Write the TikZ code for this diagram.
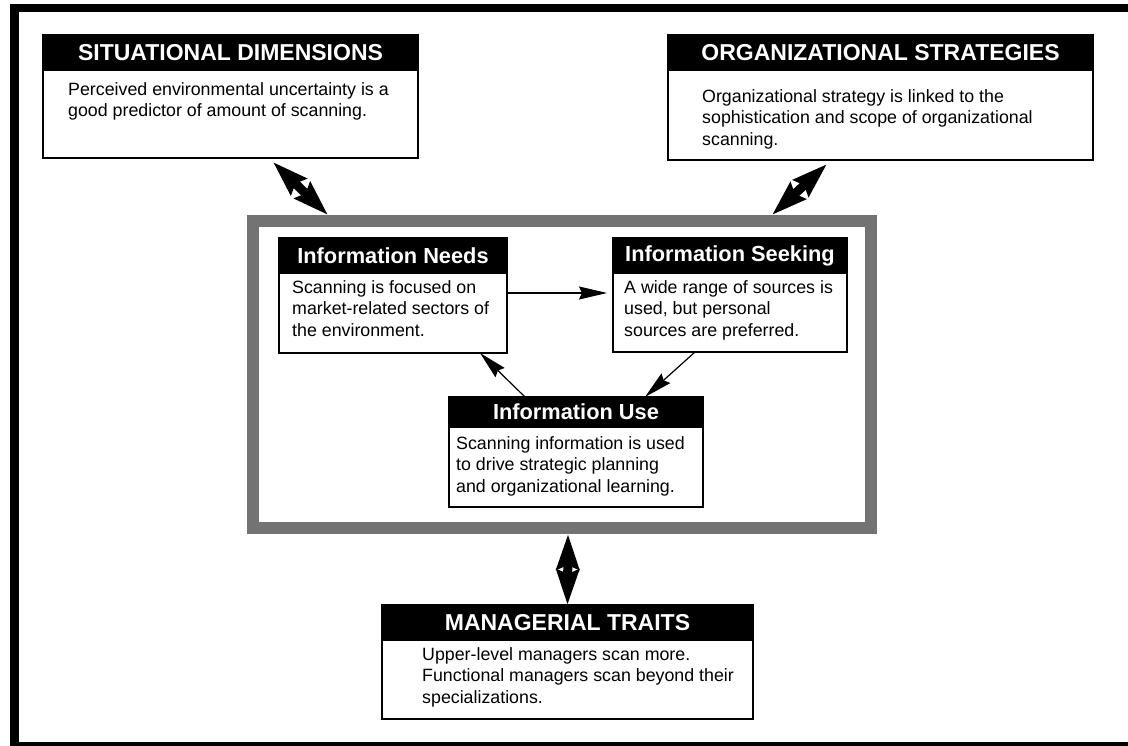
\documentclass[tikz,border=0pt]{standalone}
\usepackage{fontspec}
\setmainfont{Liberation Sans}
\usetikzlibrary{arrows.meta, positioning}

\begin{document}
\begin{tikzpicture}[
    x=1pt, y=-1pt,
    headbar/.style={draw, fill=black, text=white, inner sep=0, outer sep=0, line width=1.5pt, font=\fontsize{23}{27}\selectfont\bfseries},
    subhead/.style={headbar, font=\fontsize{21.8}{25}\selectfont\bfseries},
    bodybox/.style={draw, fill=white, inner sep=0, outer sep=0, line width=1.5pt},
    bodytext/.style={anchor=north west, align=left, inner sep=0, font=\fontsize{17.8}{21.5}\selectfont},
    cyclebox/.style={draw=black!55, line width=12pt, inner sep=0},
    twoway/.style={line width=9pt, {Stealth[length=35pt,width=22pt,inset=4pt]}-{Stealth[length=35pt,width=22pt,inset=4pt]}},
    flow/.style={line width=1.2pt, -{Stealth[length=28pt,width=13pt,inset=3pt]}}
]
    \useasboundingbox (0,0) rectangle (1128,746);

    % page border
    \fill (10,4) rectangle (19,746);
    \fill (10,4) rectangle (1128,12);
    \fill (10,742) rectangle (1128,746);

    % grey frame round the scanning cycle
    \node[cyclebox, minimum width=618, minimum height=307] (cycle) at (562,374.5) {};

    % outer boxes
    \node[headbar, minimum width=375, minimum height=35] (sithead) at (230.5,52.5) {SITUATIONAL DIMENSIONS};
    \node[bodybox, minimum width=375, minimum height=88, below=0pt of sithead] (sit) {};
    \node[bodytext] (sittext) at ([xshift=25, yshift=-12]sit.north west)
        {Perceived environmental uncertainty is a\\good predictor of amount of scanning.};

    \node[headbar, minimum width=425, minimum height=35] (orghead) at (880.5,52.5) {ORGANIZATIONAL STRATEGIES};
    \node[bodybox, minimum width=425, minimum height=90, below=0pt of orghead] (org) {};
    \node[bodytext] (orgtext) at ([xshift=34, yshift=-19]org.north west)
        {Organizational strategy is linked to the\\sophistication and scope of organizational\\scanning.};

    \node[headbar, minimum width=371, minimum height=35] (mgrhead) at (567.5,622.5) {MANAGERIAL TRAITS};
    \node[bodybox, minimum width=371, minimum height=79, below=0pt of mgrhead] (mgr) {};
    \node[bodytext] (mgrtext) at ([xshift=40, yshift=-7]mgr.north west)
        {Upper-level managers scan more.\\Functional managers scan beyond their\\specializations.};

    % the cycle itself
    \node[subhead, minimum width=228, minimum height=35] (needshead) at (393,255.5) {Information Needs};
    \node[bodybox, minimum width=228, minimum height=80, below=0pt of needshead] (needs) {};
    \node[bodytext] (needstext) at ([xshift=13, yshift=-7]needs.north west)
        {Scanning is focused on\\market-related sectors of\\the environment.};

    \node[subhead, minimum width=234, minimum height=35] (seekhead) at (730,255.5) {Information Seeking};
    \node[bodybox, minimum width=234, minimum height=79, below=0pt of seekhead] (seek) {};
    \node[bodytext] (seektext) at ([xshift=11, yshift=-7]seek.north west)
        {A wide range of sources is\\used, but personal\\sources are preferred.};

    \node[subhead, minimum width=254, minimum height=30] (usehead) at (576,412) {Information Use};
    \node[bodybox, minimum width=254, minimum height=80, below=0pt of usehead] (use) {};
    \node[bodytext] (usetext) at ([xshift=7, yshift=-9]use.north west)
        {Scanning information is used\\to drive strategic planning\\and organizational learning.};

    \draw[flow] ([yshift=-20]needs.north east) -- ([xshift=-6, yshift=-20]seek.north west);
    \draw[flow] ([xshift=-35]seek.south) -- ([xshift=69]usehead.north);
    \draw[flow] ([xshift=-51]usehead.north) -- ([xshift=87]needs.south);

    % links to the outer boxes
    \draw[twoway] ([xshift=42.5, yshift=-4]sit.south) -- ([xshift=-234]cycle.north);
    \draw[twoway] ([xshift=-53.5, yshift=-4]org.south) -- ([xshift=210]cycle.north);
    \draw[twoway] ([xshift=6]cycle.south) -- (mgrhead.north);
\end{tikzpicture}
\end{document}
